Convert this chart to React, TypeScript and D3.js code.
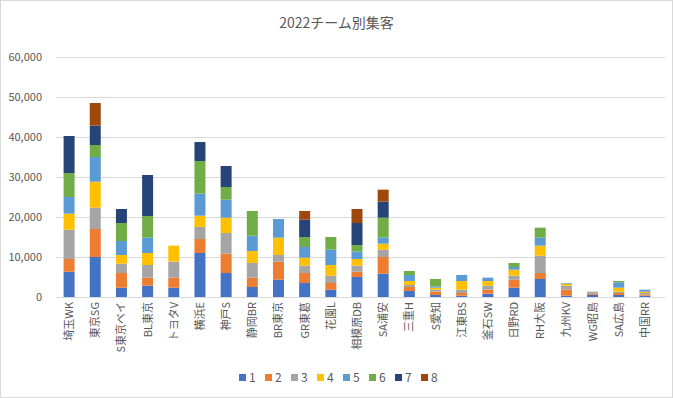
import React, { useEffect, useRef } from "react";
import * as d3 from "d3";

const categories = [
  "埼玉WK", "東京SG", "S東京ベイ", "BL東京", "トヨタV", "横浜E", "神戸S", "静岡BR",
  "BR東京", "GR東葛", "花園L", "相模原DB", "SA浦安", "三重H", "S愛知", "江東BS",
  "釜石SW", "日野RD", "RH大阪", "九州KV", "WG昭島", "SA広島", "中国RR",
];

const seriesNames = ["1", "2", "3", "4", "5", "6", "7", "8"];

const s1 = [6333, 10000, 2333, 2833, 2333, 11000, 6000, 2500, 4333, 3500, 1833, 5000, 5833, 1500, 500, 333, 833, 2333, 4500, 333, 500, 500, 333];
const s2 = [3167, 7000, 3667, 2000, 2500, 3500, 4833, 2333, 4500, 2500, 1667, 1333, 4167, 1000, 833, 667, 1000, 2000, 1500, 1500, 333, 500, 333];
const s3 = [7333, 5333, 2333, 3167, 4000, 3000, 5167, 3667, 1667, 1833, 1833, 1500, 1833, 500, 500, 833, 1000, 1000, 4333, 1000, 500, 333, 333];
const s4 = [4000, 6500, 2167, 3000, 4000, 2833, 3833, 3000, 4333, 2000, 2667, 1667, 1500, 1000, 500, 2167, 1167, 1500, 2500, 500, 0, 1000, 333];
const s5 = [4167, 6167, 3500, 3833, 0, 5500, 4500, 3833, 4667, 2667, 3833, 1833, 1500, 1500, 333, 1500, 833, 667, 2000, 167, 0, 1333, 500];
const s6 = [6000, 3000, 4500, 5417, 0, 8167, 3167, 6167, 0, 2500, 3167, 1667, 5000, 1000, 1833, 0, 0, 1000, 2500, 0, 0, 333, 0];
const s7 = [9250, 4833, 3500, 10250, 0, 4750, 5250, 0, 0, 4333, 0, 5500, 4000, 0, 0, 0, 0, 0, 0, 0, 0, 0, 0];
const s8 = [0, 5667, 0, 0, 0, 0, 0, 0, 0, 2167, 0, 3500, 3000, 0, 0, 0, 0, 0, 0, 0, 0, 0, 0];

const seriesValues = [s1, s2, s3, s4, s5, s6, s7, s8];
const colors = ["#4472C4", "#ED7D31", "#A5A5A5", "#FFC000", "#5B9BD5", "#70AD47", "#264478", "#9E480E"];
const yTicks = [0, 10000, 20000, 30000, 40000, 50000, 60000];

const W = 673;
const H = 398;
const FONT = "'Noto Sans CJK JP', 'Noto Sans', sans-serif";

export default function App() {
  const ref = useRef<SVGSVGElement>(null);

  useEffect(() => {
    document.body.style.margin = "0";
    const svg = d3.select(ref.current);
    svg.selectAll("*").remove();

    const left = 56, right = 658, top = 57, bottom = 297;

    const x = d3.scaleBand().domain(categories).range([left, right]).padding(0);
    const y = d3.scaleLinear().domain([0, 60000]).range([bottom, top]);
    const barW = x.bandwidth() * 0.42;

    const table = categories.map((c, i) => {
      const row: any = { cat: c };
      seriesNames.forEach((s, k) => (row[s] = seriesValues[k][i]));
      return row;
    });
    const stacked = d3.stack().keys(seriesNames)(table);

    svg.append("rect")
      .attr("x", 0.5).attr("y", 0.5).attr("width", W - 1).attr("height", H - 1)
      .attr("fill", "#fff").attr("stroke", "#D9D9D9");

    svg.append("text")
      .attr("x", W / 2).attr("y", 28)
      .attr("text-anchor", "middle")
      .attr("font-size", 14).attr("fill", "#595959")
      .attr("font-family", FONT)
      .text("2022チーム別集客");

    // grid
    svg.append("g").selectAll("line").data(yTicks).enter().append("line")
      .attr("x1", left).attr("x2", 665)
      .attr("y1", (d) => Math.round(y(d)) + 0.5).attr("y2", (d) => Math.round(y(d)) + 0.5)
      .attr("stroke", "#D9D9D9").attr("stroke-width", 1);

    svg.append("g").selectAll("text").data(yTicks).enter().append("text")
      .attr("x", 42).attr("y", (d) => y(d) + 4)
      .attr("text-anchor", "end")
      .attr("font-size", 11).attr("fill", "#595959")
      .attr("font-family", FONT)
      .text((d) => d3.format(",")(d));

    const layers = svg.append("g").selectAll("g").data(stacked).enter().append("g")
      .attr("fill", (d, i) => colors[i]);
    layers.selectAll("rect").data((d) => d).enter().append("rect")
      .attr("x", (d: any) => (x(d.data.cat) as number) + (x.bandwidth() - barW) / 2)
      .attr("width", barW)
      .attr("y", (d) => y(d[1]))
      .attr("height", (d) => y(d[0]) - y(d[1]));

    svg.append("g").selectAll("text").data(categories).enter().append("text")
      .attr("transform", (d) => `translate(${(x(d) as number) + x.bandwidth() / 2 + 4},302) rotate(-90)`)
      .attr("text-anchor", "end")
      .attr("font-size", 11).attr("fill", "#595959")
      .attr("font-family", FONT)
      .text((d) => d);

    const legend = svg.append("g").selectAll("g").data(seriesNames).enter().append("g")
      .attr("transform", (d, i) => `translate(${239 + i * 26},374)`);
    legend.append("rect").attr("width", 7).attr("height", 7)
      .attr("fill", (d, i) => colors[i]);
    legend.append("text")
      .attr("x", 10).attr("y", 7.5)
      .attr("font-size", 12).attr("fill", "#595959")
      .attr("font-family", FONT)
      .text((d) => d);
  }, []);

  return <svg ref={ref} width={W} height={H} style={{ display: "block" }} />;
}
